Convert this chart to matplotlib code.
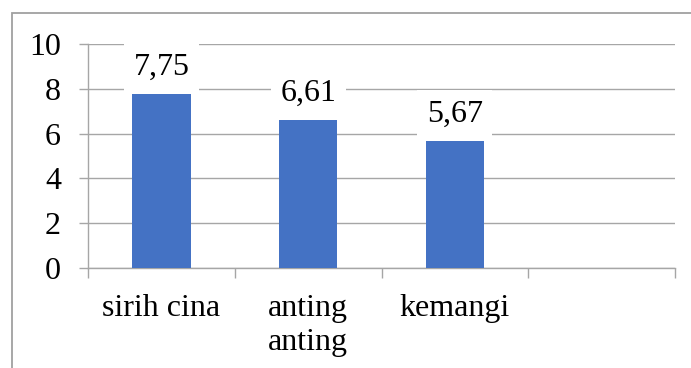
import numpy as np
import matplotlib.pyplot as plt
from matplotlib.patches import Rectangle

# Data
kategori = ["sirih cina", "anting\nanting", "kemangi", ""]
nilai = [7.75, 6.61, 5.67, np.nan]
y_ticks = [0, 2, 4, 6, 8, 10]

plt.rcParams['font.family'] = ['Liberation Serif', 'DejaVu Serif']
warna_bar = "#4472C4"
warna_garis = "#a6a6a6"
ukuran = 23

fig = plt.figure(figsize=(6.91, 3.68), dpi=100)
ax = fig.add_axes([88/691, 100/368, 587/691, 224/368])

# Bingkai luar grafik
fig.patches.append(Rectangle((12/691, -0.1), 1.0, (368-13)/368 + 0.1,
                             transform=fig.transFigure, fill=False,
                             edgecolor="#a0a0a0", linewidth=1.3))

x = np.arange(len(kategori))
ax.bar(x, nilai, width=0.4, color=warna_bar, zorder=3)

# Label nilai di atas batang
for xi, v in zip(x, nilai):
    if np.isnan(v):
        continue
    ax.annotate(f"{v:.2f}".replace(".", ","), (xi, v), xytext=(0, 9),
                textcoords="offset points", ha="center", va="bottom",
                fontsize=ukuran, zorder=5,
                bbox=dict(boxstyle="square,pad=0.3", fc="white", ec="none"))

ax.set_xlim(-0.5, len(kategori) - 0.5)
ax.set_ylim(0, 10)
ax.set_yticks(y_ticks)
ax.yaxis.grid(True, color=warna_garis, linewidth=1, zorder=0)

# Tanda kategori di batas, label di tengah
ax.set_xticks(np.arange(len(kategori) + 1) - 0.5)
ax.set_xticklabels([])
ax.set_xticks(x, minor=True)
ax.set_xticklabels(kategori, minor=True, fontsize=ukuran, linespacing=1.2)
ax.tick_params(axis="x", which="major", length=7.5, color=warna_garis, width=1)
ax.tick_params(axis="x", which="minor", length=0, pad=19)
ax.tick_params(axis="y", length=6.5, color=warna_garis, width=1, labelsize=ukuran, pad=13)

for s in ["top", "right"]:
    ax.spines[s].set_visible(False)
for s in ["left", "bottom"]:
    ax.spines[s].set_color(warna_garis)
    ax.spines[s].set_linewidth(1)

fig.savefig("out.png", dpi=100)
